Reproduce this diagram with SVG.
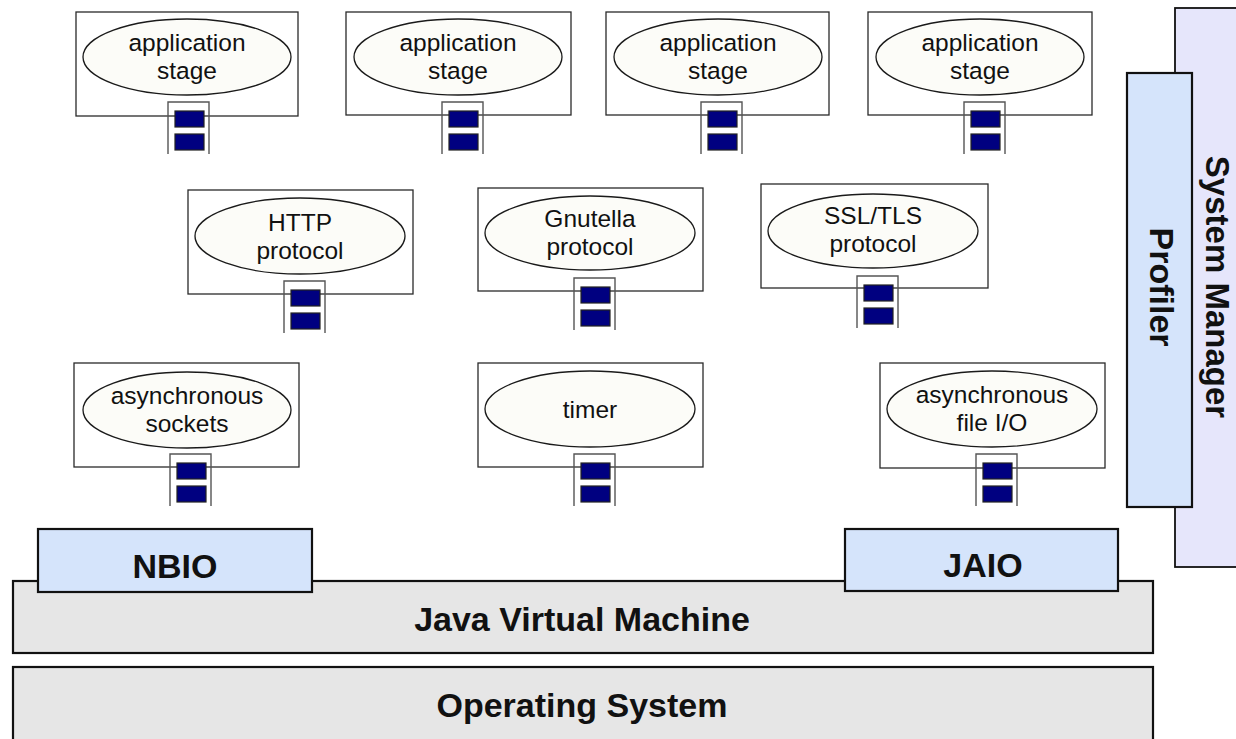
<svg xmlns="http://www.w3.org/2000/svg" width="1236" height="739" viewBox="0 0 1236 739">
<style>
.bg{fill:#ffffff}
.stage{fill:#ffffff;stroke:#2a2a2a;stroke-width:1.3}
.ell{fill:#fcfcf8;stroke:#1a1a1a;stroke-width:1.3}
.lbl{font-family:"Liberation Sans",Arial,sans-serif;font-size:24.5px;fill:#111;text-anchor:middle}
.q{fill:none;stroke:#555;stroke-width:1.4}
.qi{fill:#000080;stroke:#222;stroke-width:1.2}
.layer{fill:#e6e6e6;stroke:#111;stroke-width:2.2}
.ext{fill:#d5e4fb;stroke:#111;stroke-width:2.2}
.mgr{fill:#e6e6fb;stroke:#111;stroke-width:1.8}
.big{font-family:"Liberation Sans",Arial,sans-serif;font-size:34px;font-weight:bold;fill:#111;text-anchor:middle}
</style>
<defs>
<g id="queue">
<path class="q" d="M0,52 V0 H41 V52"/>
<rect class="qi" x="7" y="9" width="29" height="16"/>
<rect class="qi" x="7" y="32" width="29" height="16"/>
</g>
</defs>
<rect class="bg" x="0" y="0" width="1236" height="739"/>

<g id="system-manager">
<rect class="mgr" x="1175" y="8" width="70" height="559"/>
<text class="big" style="font-size:33px" transform="translate(1217,287) rotate(90)" x="0" y="11.5">System Manager</text>
</g>
<g id="profiler">
<rect class="ext" x="1127" y="73" width="65" height="434"/>
<text class="big" transform="translate(1162,287) rotate(90)" x="0" y="12">Profiler</text>
</g>

<g id="app-stage-1">
<rect class="stage" x="76" y="12" width="222" height="104"/>
<ellipse class="ell" cx="187" cy="57" rx="104" ry="38"/>
<text class="lbl" x="187" y="51">application</text>
<text class="lbl" x="187" y="78.5">stage</text>
</g>
<g id="app-stage-2">
<rect class="stage" x="346" y="12" width="225" height="103"/>
<ellipse class="ell" cx="458" cy="57" rx="104" ry="38"/>
<text class="lbl" x="458" y="51">application</text>
<text class="lbl" x="458" y="78.5">stage</text>
</g>
<g id="app-stage-3">
<rect class="stage" x="606" y="12" width="223" height="103"/>
<ellipse class="ell" cx="718" cy="57" rx="104" ry="38"/>
<text class="lbl" x="718" y="51">application</text>
<text class="lbl" x="718" y="78.5">stage</text>
</g>
<g id="app-stage-4">
<rect class="stage" x="868" y="12" width="224" height="103"/>
<ellipse class="ell" cx="980" cy="57" rx="104" ry="38"/>
<text class="lbl" x="980" y="51">application</text>
<text class="lbl" x="980" y="78.5">stage</text>
</g>

<g id="http">
<rect class="stage" x="188" y="190" width="225" height="104"/>
<ellipse class="ell" cx="300" cy="236" rx="105" ry="38"/>
<text class="lbl" x="300" y="231">HTTP</text>
<text class="lbl" x="300" y="258.5">protocol</text>
</g>
<g id="gnutella">
<rect class="stage" x="478" y="188" width="225" height="103"/>
<ellipse class="ell" cx="590" cy="233" rx="105" ry="37"/>
<text class="lbl" x="590" y="227">Gnutella</text>
<text class="lbl" x="590" y="254.5">protocol</text>
</g>
<g id="ssl-tls">
<rect class="stage" x="761" y="184" width="227" height="104"/>
<ellipse class="ell" cx="873" cy="231" rx="105" ry="37"/>
<text class="lbl" x="873" y="224">SSL/TLS</text>
<text class="lbl" x="873" y="251.5">protocol</text>
</g>

<g id="async-sockets">
<rect class="stage" x="74" y="363" width="225" height="104"/>
<ellipse class="ell" cx="187" cy="410" rx="104" ry="38"/>
<text class="lbl" x="187" y="404">asynchronous</text>
<text class="lbl" x="187" y="431.5">sockets</text>
</g>
<g id="timer">
<rect class="stage" x="478" y="363" width="225" height="104"/>
<ellipse class="ell" cx="590" cy="409" rx="105" ry="38"/>
<text class="lbl" x="590" y="418">timer</text>
</g>
<g id="async-file-io">
<rect class="stage" x="880" y="363" width="225" height="105"/>
<ellipse class="ell" cx="992" cy="409" rx="105" ry="38"/>
<text class="lbl" x="992" y="403">asynchronous</text>
<text class="lbl" x="992" y="430.5">file I/O</text>
</g>

<g id="queues">
<use href="#queue" x="168" y="102"/>
<use href="#queue" x="442" y="102"/>
<use href="#queue" x="701" y="102"/>
<use href="#queue" x="964" y="102"/>
<use href="#queue" x="284" y="281"/>
<use href="#queue" x="574" y="278"/>
<use href="#queue" x="857" y="276"/>
<use href="#queue" x="170" y="454"/>
<use href="#queue" x="574" y="454"/>
<use href="#queue" x="976" y="454"/>
</g>

<g id="os">
<rect class="layer" x="13" y="667" width="1140" height="90"/>
<text class="big" x="582" y="717">Operating System</text>
</g>
<g id="jvm">
<rect class="layer" x="13" y="581" width="1140" height="72"/>
<text class="big" x="582" y="631">Java Virtual Machine</text>
</g>
<g id="nbio">
<rect class="ext" x="38" y="529" width="274" height="63"/>
<text class="big" x="175" y="578">NBIO</text>
</g>
<g id="jaio">
<rect class="ext" x="845" y="529" width="273" height="62"/>
<text class="big" x="983" y="577">JAIO</text>
</g>
</svg>
